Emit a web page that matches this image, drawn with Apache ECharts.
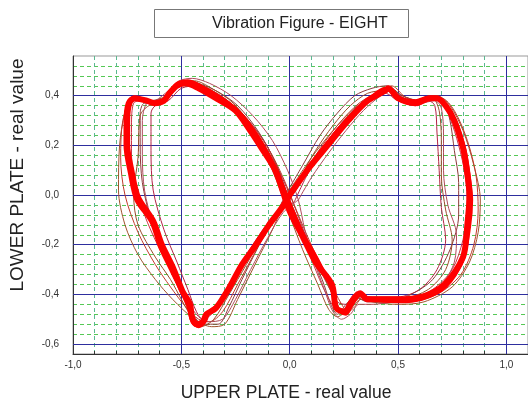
<!DOCTYPE html>
<html>
<head>
<meta charset="utf-8">
<script src="https://cdn.jsdelivr.net/npm/echarts@6/dist/echarts.min.js"></script>
<style>
  html, body { margin: 0; padding: 0; background: #fff; }
  #chart { width: 528px; height: 403px; }
</style>
</head>
<body>
<div id="chart"></div>
<script>
// axis ticks
const xMajor = [-1.0, -0.5, 0.0, 0.5, 1.0];
const yMajor = [-0.6, -0.4, -0.2, 0.0, 0.2, 0.4];
const xMinor = [-0.9, -0.8, -0.7, -0.6, -0.4, -0.3, -0.2, -0.1, 0.1, 0.2, 0.3, 0.4, 0.6, 0.7, 0.8, 0.9];
const yMinor = [-0.56, -0.52, -0.48, -0.44, -0.36, -0.32, -0.28, -0.24, -0.16, -0.12, -0.08, -0.04,
                0.04, 0.08, 0.12, 0.16, 0.24, 0.28, 0.32, 0.36, 0.44, 0.48, 0.52];

const loopMain = [[0.00,0.00],[0.09,0.11],[0.18,0.205],[0.27,0.30],[0.36,0.38],[0.44,0.42],[0.455,0.43],[0.50,0.39],[0.58,0.37],[0.65,0.39],[0.68,0.39],[0.72,0.36],[0.76,0.30],[0.80,0.19],[0.82,0.085],[0.83,0.00],[0.82,-0.12],[0.80,-0.25],[0.715,-0.36],[0.61,-0.41],[0.50,-0.42],[0.36,-0.42],[0.325,-0.395],[0.285,-0.43],[0.255,-0.47],[0.215,-0.455],[0.195,-0.36],[0.12,-0.27],[0.056,-0.16],[0.00,-0.065],[-0.065,0.097],[-0.13,0.19],[-0.19,0.27],[-0.25,0.34],[-0.34,0.39],[-0.42,0.43],[-0.48,0.45],[-0.52,0.44],[-0.555,0.41],[-0.58,0.38],[-0.625,0.37],[-0.66,0.38],[-0.715,0.39],[-0.74,0.37],[-0.75,0.30],[-0.75,0.205],[-0.73,0.097],[-0.70,-0.01],[-0.63,-0.105],[-0.59,-0.2],[-0.54,-0.29],[-0.495,-0.387],[-0.46,-0.44],[-0.45,-0.495],[-0.43,-0.52],[-0.40,-0.51],[-0.385,-0.48],[-0.34,-0.455],[-0.28,-0.375],[-0.22,-0.28],[-0.155,-0.2],[-0.095,-0.12],[-0.035,-0.05],[0.00,0.00]];
const loopMain2 = [[0.01,0.02],[0.10,0.13],[0.19,0.23],[0.28,0.32],[0.37,0.39],[0.44,0.43],[0.46,0.43],[0.51,0.39],[0.58,0.38],[0.64,0.395],[0.69,0.39],[0.73,0.35],[0.77,0.29],[0.81,0.18],[0.83,0.07],[0.84,-0.02],[0.83,-0.13],[0.80,-0.26],[0.72,-0.37],[0.61,-0.42],[0.50,-0.43],[0.37,-0.42],[0.33,-0.40],[0.29,-0.44],[0.26,-0.48],[0.22,-0.46],[0.19,-0.37],[0.13,-0.26],[0.06,-0.15],[0.01,-0.05],[-0.06,0.10],[-0.12,0.20],[-0.18,0.28],[-0.25,0.35],[-0.33,0.40],[-0.41,0.44],[-0.47,0.46],[-0.52,0.45],[-0.56,0.41],[-0.59,0.38],[-0.63,0.37],[-0.67,0.38],[-0.72,0.395],[-0.75,0.37],[-0.76,0.29],[-0.76,0.20],[-0.74,0.09],[-0.71,-0.02],[-0.64,-0.11],[-0.60,-0.21],[-0.55,-0.30],[-0.50,-0.39],[-0.47,-0.45],[-0.45,-0.51],[-0.42,-0.53],[-0.39,-0.51],[-0.37,-0.47],[-0.33,-0.44],[-0.27,-0.36],[-0.21,-0.27],[-0.15,-0.19],[-0.09,-0.11],[-0.03,-0.04],[0.01,0.02]];
const loopThin1 = [[0.00,0.02],[0.10,0.15],[0.20,0.26],[0.30,0.35],[0.40,0.41],[0.46,0.43],[0.52,0.40],[0.60,0.38],[0.68,0.40],[0.74,0.36],[0.80,0.26],[0.85,0.12],[0.88,-0.02],[0.87,-0.15],[0.83,-0.27],[0.75,-0.37],[0.62,-0.43],[0.50,-0.44],[0.38,-0.43],[0.33,-0.41],[0.28,-0.45],[0.22,-0.49],[0.18,-0.46],[0.13,-0.36],[0.06,-0.22],[-0.01,-0.06],[-0.08,0.10],[-0.16,0.24],[-0.26,0.35],[-0.36,0.42],[-0.46,0.46],[-0.52,0.45],[-0.57,0.40],[-0.64,0.38],[-0.72,0.39],[-0.76,0.33],[-0.785,0.20],[-0.79,0.02],[-0.76,-0.12],[-0.70,-0.24],[-0.62,-0.34],[-0.54,-0.42],[-0.44,-0.50],[-0.36,-0.53],[-0.30,-0.52],[-0.24,-0.42],[-0.16,-0.28],[-0.08,-0.14],[0.00,0.02]];
const loopThin2 = [[0.02,-0.03],[0.08,0.08],[0.16,0.20],[0.26,0.31],[0.36,0.39],[0.44,0.41],[0.50,0.38],[0.58,0.36],[0.64,0.38],[0.67,0.36],[0.68,0.25],[0.69,0.10],[0.70,-0.05],[0.72,-0.18],[0.68,-0.30],[0.60,-0.38],[0.50,-0.41],[0.38,-0.41],[0.30,-0.40],[0.26,-0.44],[0.22,-0.43],[0.16,-0.33],[0.09,-0.20],[0.02,-0.04],[-0.05,0.10],[-0.12,0.22],[-0.22,0.33],[-0.32,0.40],[-0.42,0.44],[-0.50,0.43],[-0.56,0.38],[-0.62,0.36],[-0.64,0.33],[-0.64,0.18],[-0.63,0.02],[-0.58,-0.14],[-0.52,-0.27],[-0.47,-0.38],[-0.43,-0.47],[-0.40,-0.50],[-0.35,-0.47],[-0.29,-0.38],[-0.22,-0.27],[-0.14,-0.16],[-0.06,-0.07],[0.02,-0.03]];
const loopThin3 = [[-0.02,0.00],[0.06,0.12],[0.14,0.24],[0.22,0.33],[0.30,0.40],[0.38,0.43],[0.45,0.44],[0.52,0.40],[0.60,0.38],[0.66,0.40],[0.71,0.38],[0.74,0.30],[0.76,0.18],[0.78,0.05],[0.78,-0.08],[0.74,-0.22],[0.66,-0.34],[0.56,-0.40],[0.46,-0.43],[0.36,-0.43],[0.30,-0.41],[0.26,-0.44],[0.22,-0.48],[0.19,-0.44],[0.15,-0.34],[0.08,-0.20],[0.01,-0.05],[-0.06,0.12],[-0.14,0.25],[-0.24,0.36],[-0.34,0.42],[-0.44,0.45],[-0.50,0.45],[-0.55,0.41],[-0.60,0.37],[-0.67,0.37],[-0.69,0.33],[-0.69,0.20],[-0.68,0.05],[-0.64,-0.10],[-0.58,-0.24],[-0.52,-0.36],[-0.46,-0.46],[-0.40,-0.52],[-0.33,-0.52],[-0.28,-0.45],[-0.22,-0.34],[-0.14,-0.20],[-0.07,-0.09],[-0.02,0.00]];
const loopThin4 = [[0.03,0.02],[0.12,0.16],[0.22,0.28],[0.32,0.37],[0.42,0.42],[0.47,0.44],[0.54,0.39],[0.62,0.38],[0.70,0.39],[0.76,0.34],[0.82,0.22],[0.86,0.08],[0.87,-0.06],[0.85,-0.20],[0.79,-0.32],[0.68,-0.40],[0.54,-0.43],[0.42,-0.43],[0.34,-0.41],[0.30,-0.45],[0.27,-0.47],[0.24,-0.44],[0.18,-0.34],[0.11,-0.22],[0.04,-0.08],[-0.03,0.07],[-0.10,0.19],[-0.20,0.31],[-0.30,0.39],[-0.40,0.44],[-0.47,0.46],[-0.53,0.43],[-0.58,0.39],[-0.66,0.38],[-0.73,0.38],[-0.77,0.30],[-0.78,0.15],[-0.76,0.00],[-0.70,-0.15],[-0.62,-0.28],[-0.55,-0.37],[-0.48,-0.45],[-0.42,-0.50],[-0.37,-0.51],[-0.31,-0.47],[-0.24,-0.36],[-0.16,-0.23],[-0.08,-0.10],[0.03,0.02]];
const loopThin5 = [[0.00,-0.02],[0.05,0.07],[0.12,0.18],[0.20,0.28],[0.28,0.36],[0.36,0.41],[0.44,0.42],[0.50,0.40],[0.56,0.37],[0.62,0.38],[0.66,0.39],[0.69,0.34],[0.70,0.22],[0.70,0.08],[0.72,-0.06],[0.75,-0.18],[0.72,-0.30],[0.64,-0.38],[0.52,-0.42],[0.40,-0.43],[0.33,-0.42],[0.28,-0.46],[0.25,-0.48],[0.21,-0.42],[0.14,-0.30],[0.07,-0.16],[0.00,-0.02],[-0.07,0.13],[-0.16,0.26],[-0.26,0.37],[-0.36,0.43],[-0.44,0.46],[-0.50,0.45],[-0.55,0.40],[-0.60,0.37],[-0.65,0.36],[-0.69,0.32],[-0.70,0.15],[-0.72,0.00],[-0.70,-0.12],[-0.62,-0.25],[-0.55,-0.34],[-0.50,-0.42],[-0.46,-0.48],[-0.41,-0.53],[-0.35,-0.50],[-0.28,-0.40],[-0.20,-0.28],[-0.12,-0.16],[-0.05,-0.07],[0.00,-0.02]];
const loopThin6 = [[0.01,0.01],[0.07,0.09],[0.15,0.19],[0.24,0.29],[0.33,0.37],[0.40,0.41],[0.45,0.43],[0.51,0.39],[0.59,0.36],[0.65,0.39],[0.70,0.38],[0.74,0.31],[0.78,0.20],[0.81,0.08],[0.82,-0.05],[0.80,-0.18],[0.75,-0.30],[0.66,-0.38],[0.55,-0.42],[0.44,-0.42],[0.36,-0.42],[0.31,-0.39],[0.27,-0.44],[0.23,-0.47],[0.17,-0.40],[0.11,-0.28],[0.05,-0.15],[0.00,-0.04],[-0.05,0.07],[-0.11,0.17],[-0.19,0.28],[-0.28,0.36],[-0.37,0.41],[-0.45,0.44],[-0.51,0.44],[-0.56,0.40],[-0.62,0.37],[-0.68,0.38],[-0.72,0.37],[-0.73,0.28],[-0.73,0.16],[-0.71,0.04],[-0.67,-0.08],[-0.61,-0.20],[-0.55,-0.30],[-0.49,-0.40],[-0.45,-0.48],[-0.42,-0.51],[-0.38,-0.49],[-0.32,-0.42],[-0.25,-0.32],[-0.17,-0.21],[-0.09,-0.11],[0.01,0.01]];
const loopThin7 = [[0.04,-0.02],[0.10,0.07],[0.18,0.17],[0.26,0.26],[0.34,0.34],[0.42,0.40],[0.47,0.42],[0.53,0.39],[0.60,0.37],[0.67,0.38],[0.70,0.35],[0.71,0.24],[0.71,0.10],[0.73,-0.04],[0.77,-0.16],[0.76,-0.27],[0.70,-0.36],[0.60,-0.41],[0.48,-0.43],[0.38,-0.44],[0.32,-0.44],[0.28,-0.48],[0.24,-0.50],[0.20,-0.47],[0.16,-0.38],[0.11,-0.26],[0.07,-0.14],[0.04,-0.02],[-0.01,0.10],[-0.08,0.22],[-0.17,0.32],[-0.27,0.40],[-0.37,0.45],[-0.45,0.47],[-0.51,0.46],[-0.56,0.42],[-0.62,0.38],[-0.66,0.37],[-0.68,0.30],[-0.68,0.16],[-0.67,0.02],[-0.63,-0.12],[-0.57,-0.25],[-0.50,-0.37],[-0.44,-0.47],[-0.38,-0.51],[-0.31,-0.50],[-0.25,-0.42],[-0.18,-0.30],[-0.10,-0.17],[-0.03,-0.07],[0.04,-0.02]];

const font = 'Liberation Sans, Arial, sans-serif';
const fmt = v => v.toFixed(1).replace('.', ',');
const majorColor = '#2e2e9e';

const thinLoops = [
  [loopThin1, '#a0522d'],
  [loopThin2, '#b22244'],
  [loopThin3, '#8b3a3a'],
  [loopThin4, '#c0392b'],
  [loopThin5, '#9a4a2a'],
  [loopThin6, '#cc3344'],
  [loopThin7, '#b04a5a']
];

const chart = echarts.init(document.getElementById('chart'));

// major grid drawn as mark lines, on a layer above the axes
const series = [{
  type: 'line',
  data: [],
  xAxisIndex: 0,
  yAxisIndex: 0,
  silent: true,
  zlevel: 1,
  z: 2,
  markLine: {
    silent: true,
    animation: false,
    symbol: ['none', 'none'],
    label: { show: false },
    emphasis: { disabled: true },
    lineStyle: { color: majorColor, type: 'solid', width: 1 },
    data: xMajor.filter(v => v > -1).map(v => ({ xAxis: v }))
      .concat(yMajor.map(v => ({ yAxis: v })))
  }
}];

thinLoops.forEach(([pts, color]) => series.push({
  type: 'line',
  data: pts,
  xAxisIndex: 0,
  yAxisIndex: 0,
  showSymbol: false,
  smooth: 0.3,
  lineStyle: { color: color, width: 1 },
  itemStyle: { color: color },
  zlevel: 1,
  z: 3
}));
series.push({
  type: 'line', data: loopMain2, xAxisIndex: 0, yAxisIndex: 0,
  showSymbol: false, smooth: 0.3, zlevel: 1, z: 4,
  lineStyle: { color: '#ff0000', width: 3 }, itemStyle: { color: '#ff0000' }
});
series.push({
  type: 'line', data: loopMain, xAxisIndex: 0, yAxisIndex: 0,
  showSymbol: false, smooth: 0.3, zlevel: 1, z: 5,
  lineStyle: { color: '#ff0000', width: 6 }, itemStyle: { color: '#ff0000' }
});

const option = {
  animation: false,
  backgroundColor: '#ffffff',
  title: {
    text: 'Vibration Figure - EIGHT',
    left: 154,
    top: 9,
    borderColor: '#777',
    borderWidth: 1,
    padding: [7, 21, 6, 58],
    textStyle: { fontFamily: font, fontSize: 16, fontWeight: 'normal', color: '#222' }
  },
  grid: {
    left: 73, right: -3, top: 56, bottom: 49,
    show: true, borderColor: '#999', borderWidth: 1, backgroundColor: '#fff'
  },
  xAxis: [
    {
      type: 'value', min: -1, max: 1.1, position: 'bottom',
      axisLine: { show: true, onZero: false, lineStyle: { color: '#333' } },
      axisTick: { show: true, inside: true, length: 3, customValues: xMinor, lineStyle: { color: '#333' } },
      axisLabel: { show: false },
      splitLine: { show: true, lineStyle: { color: '#5cb890', type: [4, 3], width: 1 } }
    },
    {
      type: 'value', min: -1, max: 1.1, position: 'bottom',
      axisLine: { show: false, onZero: false },
      axisTick: { show: true, inside: true, length: 3, customValues: xMajor, lineStyle: { color: '#333' } },
      axisLabel: {
        customValues: xMajor,
        formatter: v => fmt(v),
        fontFamily: font, fontSize: 10, color: '#333', margin: 6
      },
      splitLine: { show: false }
    }
  ],
  yAxis: [
    {
      type: 'value', min: -0.64, max: 0.56, position: 'left',
      axisLine: { show: true, onZero: false, lineStyle: { color: '#333' } },
      axisTick: { show: false, customValues: yMinor },
      axisLabel: { show: false },
      splitLine: { show: true, lineStyle: { color: '#55c855', type: [4, 3], width: 1 } }
    },
    {
      type: 'value', min: -0.64, max: 0.56, position: 'left',
      axisLine: { show: false, onZero: false },
      axisTick: { show: false, customValues: yMajor },
      axisLabel: {
        customValues: yMajor,
        formatter: v => fmt(v),
        fontFamily: font, fontSize: 10, color: '#333', margin: 14
      },
      splitLine: { show: false }
    }
  ],
  graphic: [
    {
      type: 'text', x: 18, y: 175, rotation: Math.PI / 2,
      style: { text: 'LOWER PLATE - real value', fontFamily: font, fontSize: 19, fill: '#222', align: 'center', verticalAlign: 'middle' }
    },
    {
      type: 'text', x: 286, y: 393,
      style: { text: 'UPPER PLATE - real value', fontFamily: font, fontSize: 17.5, fill: '#222', align: 'center', verticalAlign: 'middle' }
    }
  ],
  series: series
};

chart.setOption(option);
window.addEventListener('resize', () => chart.resize());
</script>
</body>
</html>
